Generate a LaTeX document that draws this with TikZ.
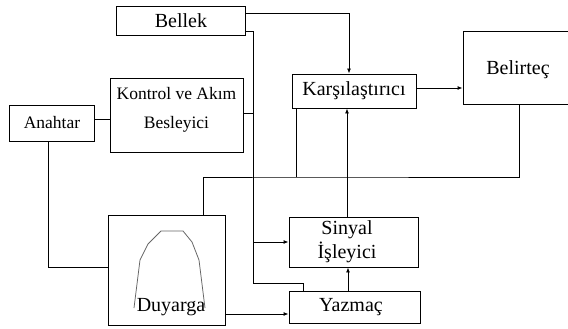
\documentclass[tikz,border=0pt]{standalone}
\usepackage{fontspec}
\setmainfont{Liberation Serif}
\usetikzlibrary{arrows.meta}
\tikzset{
  box/.style={draw=black, line width=0.9pt, inner sep=0pt, fill=none},
  lbl/.style={inner sep=0pt, font=\fontsize{20}{24}\selectfont},
  lbls/.style={inner sep=0pt, font=\fontsize{17.5}{21}\selectfont},
  wire/.style={draw=black, line width=0.9pt},
  arr/.style={wire, -{Latex[length=5pt,width=4pt]}},
}
\begin{document}
\begin{tikzpicture}[x=1pt,y=-1pt]
\useasboundingbox (0,0) rectangle (568,329);
\fill[white] (0,0) rectangle (568,329);
% boxes
\node[box, minimum width=129pt, minimum height=29pt] (bellek) at (180.5,20.5) {};
\node[box, minimum width=133pt, minimum height=74pt] (kontrol) at (176.5,115) {};
\node[box, minimum width=85pt, minimum height=36pt] (anahtar) at (51.5,123) {};
\node[box, minimum width=124pt, minimum height=34pt] (karsi) at (354,91) {};
\node[box, minimum width=112pt, minimum height=73pt] (belirtec) at (519,67.5) {};
\node[box, minimum width=117pt, minimum height=110pt] (duyarga) at (166.5,270) {};
\node[box, minimum width=129pt, minimum height=50pt] (sinyal) at (353.5,242) {};
\node[box, minimum width=131pt, minimum height=32pt] (yazmac) at (354.5,307) {};
% labels
\node[lbl] (tbellek) at (181,21) {Bellek};
\node[lbls] (tkon1) at (176.5,94) {Kontrol ve Akım};
\node[lbls] (tkon2) at (176.5,124) {Besleyici};
\node[lbls] (tanah) at (52,123) {Anahtar};
\node[lbl] (tkarsi) at (354,91) {Karşılaştırıcı};
\node[lbl] (tbel) at (518,70) {Belirteç};
\node[lbl] (tsin1) at (347,230) {Sinyal};
\node[lbl] (tsin2) at (347,252) {İşleyici};
\node[lbl] (tyaz) at (351,307) {Yazmaç};
% sensor arch
\draw[gray!80!black, line width=0.8pt] (134,308) -- (140,260) -- (148,244) -- (161,231) -- (183,231) -- (192,242) -- (199,260) -- (205,308);
\node[lbl] (tduy) at (171,307) {Duyarga};
% coordinates
\coordinate (bus) at (253,31);
\coordinate (low) at (253,283);
\coordinate (y177) at (300,177);
\coordinate (dy) at ([yshift=-7pt]yazmac.west);
\coordinate (ky) at ([yshift=-4pt]kontrol.west);
% connectors
\draw[arr] ([yshift=7.5pt]bellek.east) -| ([xshift=-5pt]karsi.north);
\draw[wire] ([yshift=-10.5pt]bellek.east) -- (bus) -- (low) -| ([xshift=-51.5pt]yazmac.north);
\draw[wire] ([yshift=2pt]kontrol.east) -- ([yshift=2pt]kontrol.east -| bus);
\draw[arr] (sinyal.west -| bus) -- (sinyal.west);
\draw[wire] (ky -| anahtar.east) -- (ky);
\draw[wire] ([xshift=-3.5pt]anahtar.south) |- ([yshift=3pt]duyarga.west);
\draw[wire] ([xshift=36.5pt]duyarga.north) |- (y177) -| (belirtec.south);
\draw[wire] ([xshift=5pt]karsi.south west) -- ([xshift=5pt]karsi.south west |- y177);
\draw[arr] ([xshift=-6.5pt]sinyal.north) -- ([xshift=-6.5pt]sinyal.north |- karsi.south);
\draw[arr] ([yshift=3pt]karsi.east) -- ([yshift=3pt]karsi.east -| belirtec.west);
\draw[arr] ([xshift=-6.5pt]yazmac.north) -- ([xshift=-6.5pt]yazmac.north |- sinyal.south);
\draw[arr] (dy -| duyarga.east) -- (dy);
\end{tikzpicture}
\end{document}
